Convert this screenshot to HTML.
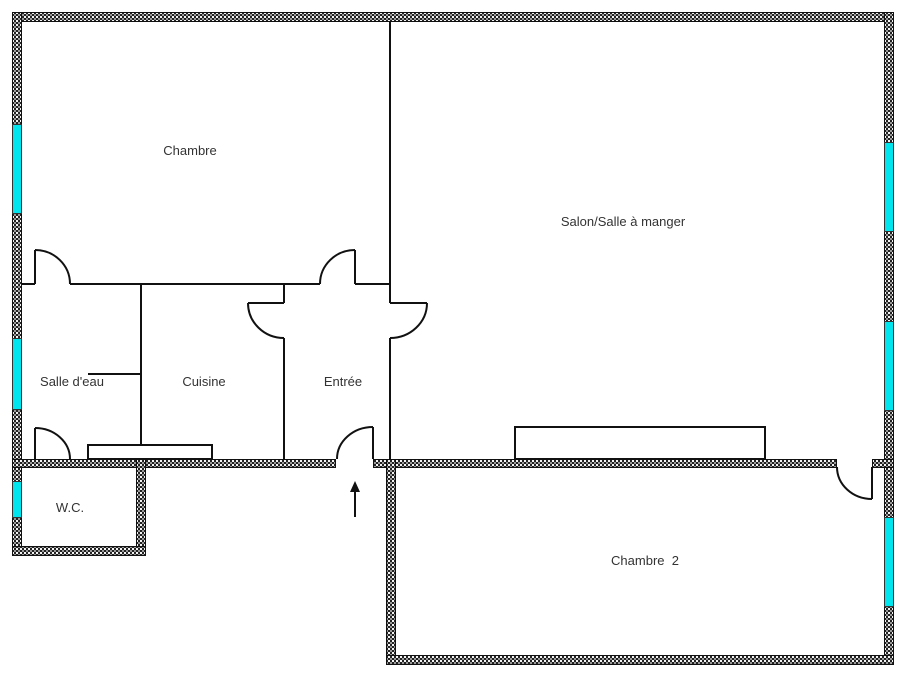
<!DOCTYPE html>
<html><head><meta charset="utf-8"><style>
html,body{margin:0;padding:0;background:#fff;}
svg{display:block;}
text{font-family:"Liberation Sans",Arial,sans-serif;font-size:13px;fill:#333;}
</style></head><body>
<svg width="902" height="678" viewBox="0 0 902 678" xmlns="http://www.w3.org/2000/svg">
<defs>
<pattern id="w" width="4" height="4" patternUnits="userSpaceOnUse">
<rect width="4" height="4" fill="#222"/>
<rect x="0" y="0" width="2" height="2" fill="#f4f4f4"/>
<rect x="2" y="2" width="2" height="2" fill="#999"/>
</pattern>
</defs>
<g fill="url(#w)" stroke="#111" stroke-width="1">
<rect x="12.5" y="12.5" width="881" height="9"/>
<rect x="12.5" y="12.5" width="9" height="543"/>
<rect x="884.5" y="12.5" width="9" height="652"/>
<rect x="12.5" y="459.5" width="323" height="8"/>
<rect x="373.5" y="459.5" width="463" height="8"/>
<rect x="872.5" y="459.5" width="21" height="8"/>
<rect x="136.5" y="459.5" width="9" height="96"/>
<rect x="12.5" y="546.5" width="133" height="9"/>
<rect x="386.5" y="459.5" width="9" height="205"/>
<rect x="386.5" y="655.5" width="507" height="9"/>
</g>
<g fill="#00e5ee" stroke="#333" stroke-width="1">
<rect x="12.5" y="124.5" width="9" height="89"/>
<rect x="12.5" y="338.5" width="9" height="71"/>
<rect x="12.5" y="481.5" width="9" height="36"/>
<rect x="884.5" y="142.5" width="9" height="89"/>
<rect x="884.5" y="321.5" width="9" height="89"/>
<rect x="884.5" y="517.5" width="9" height="89"/>
</g>
<g fill="none" stroke="#111" stroke-width="2">
<line x1="390" y1="21" x2="390" y2="303"/>
<line x1="390" y1="338" x2="390" y2="459"/>
<line x1="390" y1="303" x2="427" y2="303"/>
<path d="M427 303 A37 35 0 0 1 390 338"/>
<line x1="21" y1="284" x2="35" y2="284"/>
<line x1="35" y1="250" x2="35" y2="284"/>
<path d="M35 250 A35 34 0 0 1 70 284"/>
<line x1="70" y1="284" x2="320" y2="284"/>
<line x1="355" y1="250" x2="355" y2="284"/>
<path d="M355 250 A35 34 0 0 0 320 284"/>
<line x1="355" y1="284" x2="390" y2="284"/>
<line x1="284" y1="284" x2="284" y2="303"/>
<line x1="248" y1="303" x2="284" y2="303"/>
<path d="M248 303 A36 35 0 0 0 284 338"/>
<line x1="284" y1="338" x2="284" y2="459"/>
<line x1="373" y1="427" x2="373" y2="459"/>
<path d="M373 427 A36 32 0 0 0 337 459"/>
<line x1="141" y1="284" x2="141" y2="445"/>
<line x1="88" y1="374" x2="141" y2="374"/>
<rect x="88" y="445" width="124" height="14"/>
<line x1="35" y1="428" x2="35" y2="459"/>
<path d="M35 428 A35 31 0 0 1 70 459"/>
<rect x="515" y="427" width="250" height="32"/>
<line x1="872" y1="467" x2="872" y2="499"/>
<path d="M837 467 A35 32 0 0 0 872 499"/>
<line x1="355" y1="517" x2="355" y2="490"/>
</g>
<polygon points="355,481 350,492 360,492" fill="#111"/>
<text x="190" y="155" text-anchor="middle">Chambre</text>
<text x="623" y="226" text-anchor="middle">Salon/Salle à manger</text>
<text x="72" y="386" text-anchor="middle">Salle d'eau</text>
<text x="204" y="386" text-anchor="middle">Cuisine</text>
<text x="343" y="386" text-anchor="middle">Entrée</text>
<text x="70" y="512" text-anchor="middle">W.C.</text>
<text x="645" y="565" text-anchor="middle">Chambre&#160; 2</text>
</svg>
</body></html>
